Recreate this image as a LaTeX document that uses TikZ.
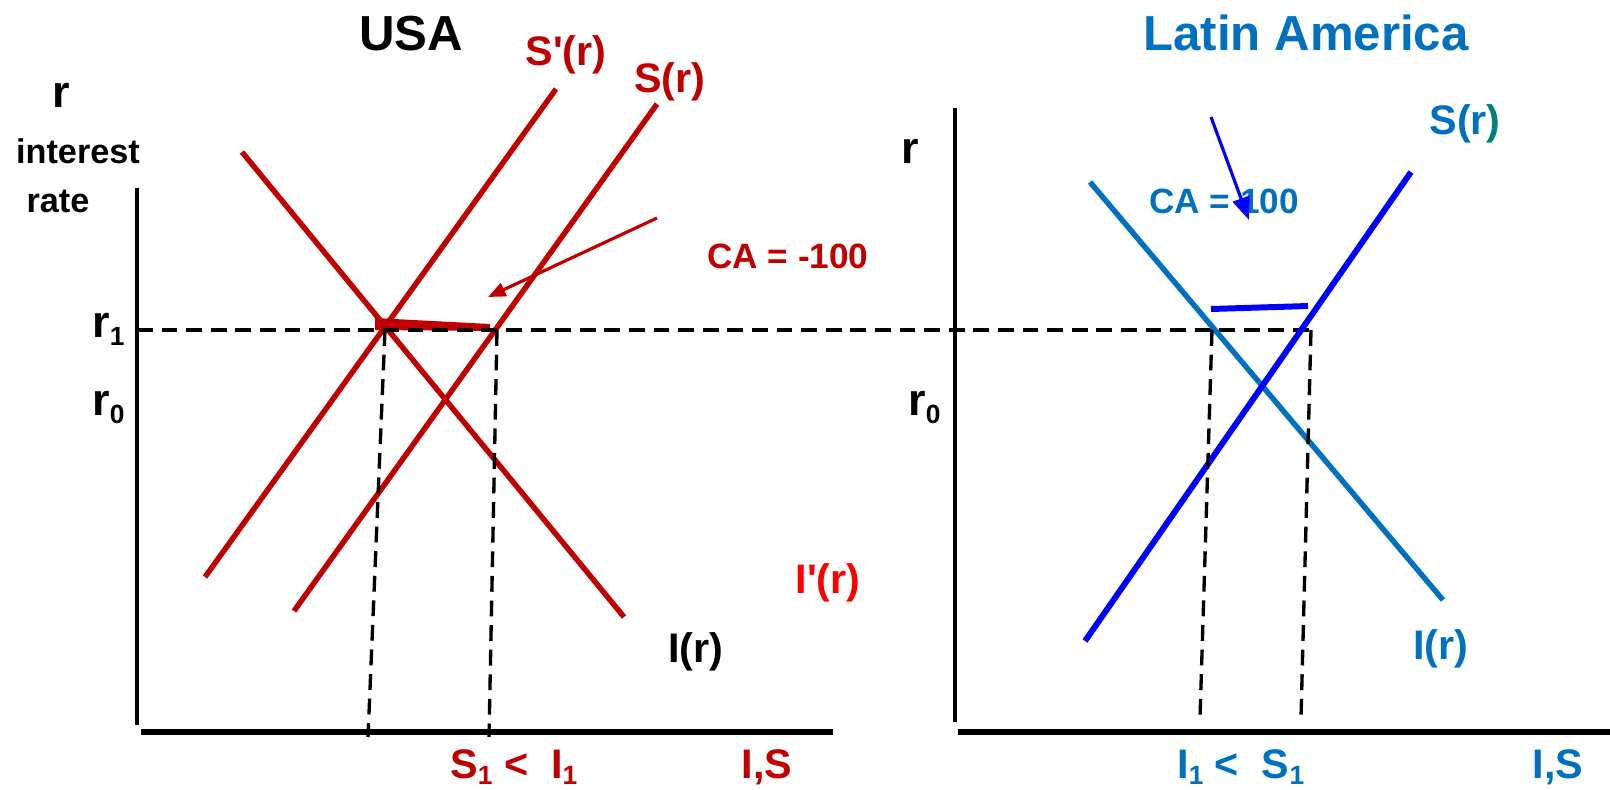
\documentclass[tikz,border=0pt]{standalone}
\usepackage{fontspec}
\setmainfont{Liberation Sans}
\usetikzlibrary{arrows.meta}

\definecolor{usared}{HTML}{C00000}
\definecolor{brightred}{HTML}{FF0000}
\definecolor{lablue}{HTML}{0070C0}
\definecolor{pureblue}{HTML}{0000FF}
\definecolor{lateal}{HTML}{00807A}

\newcommand{\lowsub}[1]{\raisebox{-5pt}{\fontsize{15}{16}\selectfont #1}}
\newcommand{\axsub}[1]{\raisebox{-3.6pt}{\fontsize{15}{16}\selectfont #1}}

\begin{document}
\begin{tikzpicture}[
  x=0.02cm, y=-0.02cm,
  axisv/.style={line width=2.8pt},
  axish/.style={line width=3.8pt},
  guide/.style={line width=1.9pt, dash pattern=on 9pt off 5pt},
  curve/.style={line width=3.1pt},
  pointer/.style={line width=1.8pt, -{Triangle[length=10pt,width=8pt]}},
  title/.style={font=\bfseries\fontsize{28}{30}\selectfont, inner sep=0pt},
  lbl/.style={font=\bfseries\fontsize{23.5}{26}\selectfont, inner sep=0pt},
  calbl/.style={font=\bfseries\fontsize{20}{22}\selectfont, inner sep=0pt},
  small/.style={font=\bfseries\fontsize{19.5}{21}\selectfont, inner sep=0pt},
  rlbl/.style={font=\bfseries\fontsize{25.6}{28}\selectfont, inner sep=0pt}
]
\useasboundingbox (0,0) rectangle (1610,789);

% geometry (pixels, y down)
\def\rone{330}

% ---------------- USA ----------------
\node[title, anchor=base] (usa) at (411,50) {USA};
\node[rlbl, anchor=base] (usar) at (61,107) {r};
\node[small, anchor=base] (usaint) at (78,163) {interest};
\node[small, anchor=base] (usarate) at (58,212) {rate};
\node[rlbl, anchor=base west] (usar1) at (92,337) {r\lowsub{1}};
\node[rlbl, anchor=base west] (usar0) at (92,415) {r\lowsub{0}};

% axes
\draw[axisv] (137,188) -- (137,725);
\draw[axish] (141,732) -- (833,732);

% curves
\coordinate (usaIa) at (242,152);  \coordinate (usaIb) at (624,617);
\coordinate (usaSpa) at (205,577); \coordinate (usaSpb) at (556,89);
\coordinate (usaSa) at (294,611);  \coordinate (usaSb) at (657,104);
\draw[curve, usared] (usaIa) -- (usaIb);
\draw[curve, usared] (usaSpa) -- (usaSpb);
\draw[curve, usared] (usaSa) -- (usaSb);

% gap at r1
\fill[usared] (375,318) -- (490,324) -- (490,331) -- (375,330) -- cycle;

% guides
\coordinate (r1L) at (137,\rone);
\coordinate (usaE1) at (385,\rone);
\coordinate (usaE2) at (497,\rone);
\coordinate (laE1) at (1212,\rone);
\coordinate (laE2) at (1311,\rone);
\draw[guide] (r1L) -- (laE2);
\draw[guide] (usaE1) -- (368,737);
\draw[guide] (usaE2) -- (489,737);

% labels
\node[lbl, usared] (usaSplbl) at (566,55) {S\textquotesingle(r)};
\node[lbl, usared] (usaSlbl) at (670,82) {S(r)};
\node[lbl, brightred] (usaIplbl) at (828,583) {I\textquotesingle(r)};
\node[lbl] (usaIlbl) at (696,652) {I(r)};
\node[calbl, usared] (usaca) at (788,256) {CA = -100};
\coordinate (usacaTail) at (657,218);
\coordinate (usacaTip) at (488,297);
\draw[pointer, usared] (usacaTail) -- (usacaTip);
\node[lbl, usared, anchor=base west] (usaSI) at (450,778) {S\axsub{1} <\ \ I\axsub{1}};
\node[lbl, usared, anchor=base] (usaIS) at (767,778) {I,S};

% ---------------- Latin America ----------------
\node[title, lablue, anchor=base] (la) at (1306,50) {Latin America};
\node[rlbl, anchor=base west] (lar) at (901,163) {r};
\node[rlbl, anchor=base west] (lar0) at (908,415) {r\lowsub{0}};

% axes
\draw[axisv] (955,108) -- (955,722);
\draw[axish] (958,732) -- (1610,732);

% curves
\coordinate (laIa) at (1090,182); \coordinate (laIb) at (1443,600);
\coordinate (laSa) at (1085,641); \coordinate (laSb) at (1411,172);
\draw[curve, lablue] (laIa) -- (laIb);
\draw[curve, pureblue, line width=3.4pt] (laSa) -- (laSb);

% gap at r1
\draw[pureblue, line width=3.4pt] (1211,309) -- (1308,306);

% guides
\draw[guide] (laE1) -- (1200,718);
\draw[guide] (laE2) -- (1301,718);

% labels
\node[lbl, lablue] (laSlbl) at (1465,124) {S(r{\color{lateal})}};
\node[lbl, lablue] (laIlbl) at (1441,649) {I(r)};
\node[calbl, lablue] (laca) at (1224,201) {CA = 100};
\coordinate (lacaTail) at (1211,117);
\coordinate (lacaTip) at (1249,220);
\draw[pointer, pureblue, -{Triangle[length=13pt,width=10pt]}] (lacaTail) -- (lacaTip);
\node[lbl, lablue, anchor=base west] (laIS1) at (1177,778) {I\axsub{1} <\ \ S\axsub{1}};
\node[lbl, lablue, anchor=base] (laIS) at (1558,778) {I,S};

\end{tikzpicture}
\end{document}
